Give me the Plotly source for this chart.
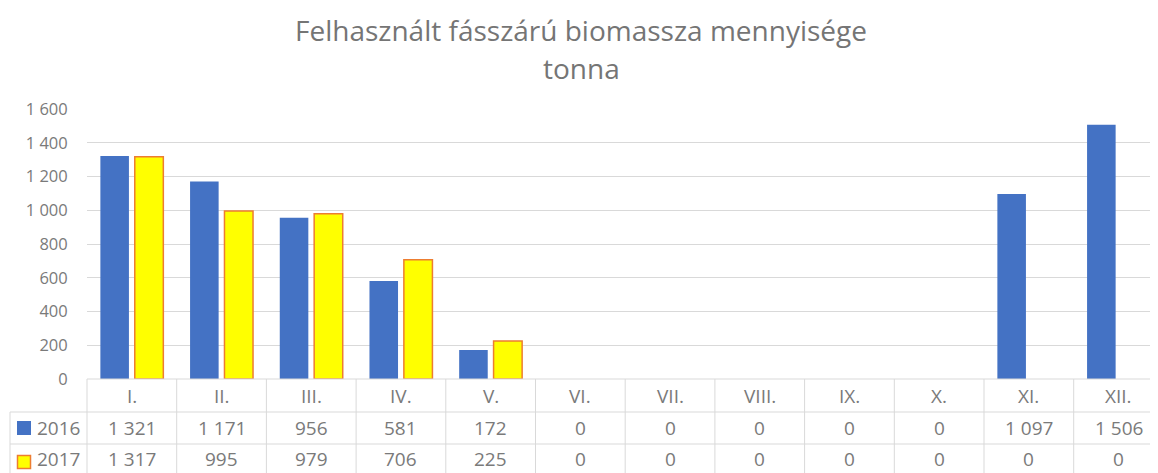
import plotly.graph_objects as go

# ---- data ----
months = ["I.", "II.", "III.", "IV.", "V.", "VI.", "VII.", "VIII.", "IX.", "X.", "XI.", "XII."]
series_names = ["2016", "2017"]
values_2016 = [1321, 1171, 956, 581, 172, 0, 0, 0, 0, 0, 1097, 1506]
values_2017 = [1317, 995, 979, 706, 225, 0, 0, 0, 0, 0, 0, 0]
y_ticks = [0, 200, 400, 600, 800, 1000, 1200, 1400, 1600]
title_line1 = "Felhasznált fásszárú biomassza mennyisége"
title_line2 = "tonna"

# ---- layout geometry (page body has an 8px margin) ----
OFF = 8
W, H = 1158 - OFF, 473 - OFF
ml, mr, mt, mb = 87 - OFF, 0, 109 - OFF, 94
col_px = 89.7
plot_w = W - ml - mr
plot_h = H - mt - mb
x_range = [-0.5, -0.5 + plot_w / col_px]

blue = "#4472C4"
yellow = "#FFFF00"
orange = "#ED7D31"
grid = "#D9D9D9"
txt = "#7A7A7A"
FONT = "Open Sans"


def fmt(v):
    return f"{v:,}".replace(",", " ")


def py2paper(py):
    # py: pixel row in the screenshot
    return (H - mb - (py - OFF)) / plot_h


def px2paper(px):
    return (px - OFF - ml) / plot_w


def x2paper(v):
    return (v - x_range[0]) / (x_range[1] - x_range[0])


xs = list(range(len(months)))

fig = go.Figure()
fig.add_trace(go.Bar(
    x=xs, y=[v if v else None for v in values_2016], name=series_names[0],
    marker=dict(color=blue, line=dict(width=0)),
))
fig.add_trace(go.Bar(
    x=xs, y=[v if v else None for v in values_2017], name=series_names[1],
    marker=dict(color=yellow, line=dict(color=orange, width=1.5)),
))

shapes = []
line = dict(color=grid, width=1)
shapes.append(dict(type="line", xref="paper", yref="paper", x0=0, x1=1,
                   y0=py2paper(379), y1=py2paper(379), line=line))
for py in (412, 444):
    shapes.append(dict(type="line", xref="paper", yref="paper", x0=px2paper(10), x1=1,
                       y0=py2paper(py), y1=py2paper(py), line=line))
shapes.append(dict(type="line", xref="paper", yref="paper", x0=px2paper(10), x1=px2paper(10),
                   y0=py2paper(412), y1=py2paper(480), line=line))
for k in range(len(months) + 1):
    xp = x2paper(k - 0.5)
    if xp <= 1.0001:
        shapes.append(dict(type="line", xref="paper", yref="paper", x0=xp, x1=xp,
                           y0=py2paper(379), y1=py2paper(480), line=line))
# legend keys
shapes.append(dict(type="rect", xref="paper", yref="paper",
                   x0=px2paper(17), x1=px2paper(31), y0=py2paper(421), y1=py2paper(435),
                   fillcolor=blue, line=dict(width=0)))
shapes.append(dict(type="rect", xref="paper", yref="paper",
                   x0=px2paper(17.5), x1=px2paper(30.5), y0=py2paper(455.5), y1=py2paper(468.5),
                   fillcolor=yellow, line=dict(color=orange, width=1.5)))

ann = []
tfont = dict(family=FONT, size=19, color=txt)
for i, m in enumerate(months):
    ann.append(dict(x=i, xref="x", y=py2paper(396), yref="paper", text=m, showarrow=False,
                    font=tfont, xanchor="center", yanchor="middle"))
    ann.append(dict(x=i, xref="x", y=py2paper(428), yref="paper", text=fmt(values_2016[i]),
                    showarrow=False, font=tfont, xanchor="center", yanchor="middle"))
    ann.append(dict(x=i, xref="x", y=py2paper(459), yref="paper", text=fmt(values_2017[i]),
                    showarrow=False, font=tfont, xanchor="center", yanchor="middle"))
for name, py in zip(series_names, (428, 459)):
    ann.append(dict(x=px2paper(35), xref="paper", y=py2paper(py), yref="paper", text=name,
                    showarrow=False, font=tfont, xanchor="left", yanchor="middle"))
# title
ann.append(dict(x=px2paper(581), xref="paper", y=py2paper(30), yref="paper", xanchor="center",
                yanchor="middle", text=title_line1, showarrow=False,
                font=dict(family=FONT, size=28, color="#757575")))
ann.append(dict(x=px2paper(581), xref="paper", y=py2paper(68), yref="paper", xanchor="center",
                yanchor="middle", text=title_line2, showarrow=False,
                font=dict(family=FONT, size=28, color="#757575")))

fig.update_layout(
    width=W, height=H,
    margin=dict(l=ml, r=mr, t=mt, b=mb, pad=0),
    paper_bgcolor="white", plot_bgcolor="white",
    barmode="group", bargap=0.233, bargroupgap=0.17,
    showlegend=False,
    separators=", ",
    shapes=shapes, annotations=ann,
    xaxis=dict(range=x_range, showticklabels=False, showgrid=False, zeroline=False,
               ticks="", showline=False, fixedrange=True),
    yaxis=dict(range=[0, 1600], tickvals=y_ticks, ticktext=[fmt(v) for v in y_ticks],
               showgrid=True, gridcolor=grid, gridwidth=1, zeroline=False,
               showline=False, ticks="outside", ticklen=15, tickcolor="rgba(0,0,0,0)",
               tickfont=dict(family=FONT, size=16.5, color=txt)),
)

fig.write_html("out.html")
